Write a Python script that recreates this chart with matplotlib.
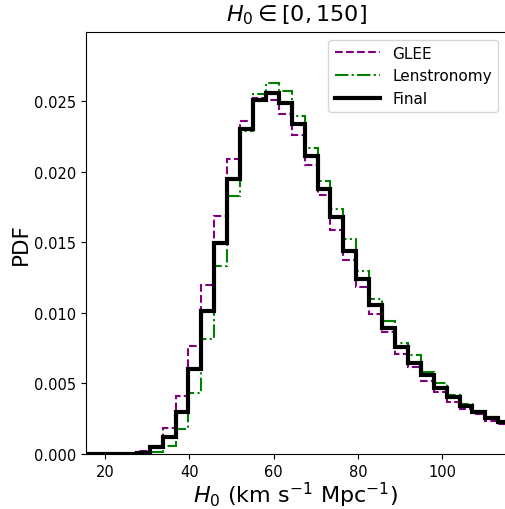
import numpy as np
import matplotlib
matplotlib.use("Agg")
import matplotlib.pyplot as plt

# bin edges: 50 edges over [0, 150]
edges = np.linspace(0, 150, 50)

# PDF values per bin (bins 0..48)
glee = [0, 0, 0, 0, 0, 0, 0, 0, 0.00003, 0.00018, 0.0006, 0.00182, 0.0041, 0.00764,
        0.0120, 0.01684, 0.02089, 0.0236, 0.02524, 0.02507, 0.02408, 0.02259,
        0.0205, 0.01838, 0.0159, 0.01372, 0.01183, 0.00993, 0.00864, 0.0071,
        0.00615, 0.0052, 0.00442, 0.00371, 0.00319, 0.00284, 0.00236, 0.00213,
        0.0019, 0.0017, 0.0015, 0.0013, 0.0012, 0.0011, 0.001, 0.0009, 0.0008, 0.0007, 0.0006]
lenstronomy = [0, 0, 0, 0, 0, 0, 0, 0, 0, 0.00003, 0.00015, 0.0006, 0.0018, 0.00433,
               0.00816, 0.01329, 0.01826, 0.02287, 0.02548, 0.0263, 0.02571, 0.02396,
               0.02169, 0.01935, 0.01734, 0.01526, 0.01294, 0.011, 0.00939, 0.00788,
               0.00698, 0.0058, 0.00504, 0.00419, 0.00355, 0.00307, 0.0026, 0.00236,
               0.0021, 0.0019, 0.0017, 0.0015, 0.0013, 0.0012, 0.0011, 0.001, 0.0009, 0.0008, 0.0007]
final = [0, 0, 0, 0, 0, 0, 0, 0, 0.00002, 0.0001, 0.00047, 0.0012, 0.0030, 0.00603,
         0.01013, 0.01497, 0.01951, 0.02301, 0.02507, 0.0256, 0.02489, 0.02335,
         0.0211, 0.0188, 0.0168, 0.01436, 0.01242, 0.01057, 0.00892, 0.00757,
         0.00646, 0.00561, 0.0047, 0.00402, 0.00343, 0.00296, 0.00253, 0.00225,
         0.002, 0.0018, 0.0016, 0.0014, 0.0013, 0.0012, 0.0011, 0.001, 0.0009, 0.0008, 0.0007]

fig = plt.figure(figsize=(5.05, 5.10), dpi=100)
ax = fig.add_axes([86 / 505, 55 / 510, 420 / 505, 422 / 510])

ax.stairs(glee, edges, color="purple", linestyle="--", linewidth=1.5, label="GLEE")
ax.stairs(lenstronomy, edges, color="green", linestyle="-.", linewidth=1.5, label="Lenstronomy")
ax.stairs(final, edges, color="black", linestyle="-", linewidth=3, label="Final")

ax.set_xlim(15.5, 115.1)
ax.set_ylim(0, 0.0299)
ax.set_xticks([20, 40, 60, 80, 100])
ax.set_yticks([0, 0.005, 0.01, 0.015, 0.02, 0.025])
ax.yaxis.set_major_formatter(matplotlib.ticker.FormatStrFormatter("%.3f"))
ax.tick_params(labelsize=10.5)

ax.set_xlabel(r"$H_0$ (km s$^{-1}$ Mpc$^{-1}$)", fontsize=16, labelpad=1)
ax.set_ylabel("PDF", fontsize=15.5, labelpad=2)
ax.set_title(r"$H_0 \in [0, 150]$", fontsize=16, pad=8)
ax.legend(loc="upper right", fontsize=11, handlelength=3)

fig.savefig("out.png", dpi=100)
